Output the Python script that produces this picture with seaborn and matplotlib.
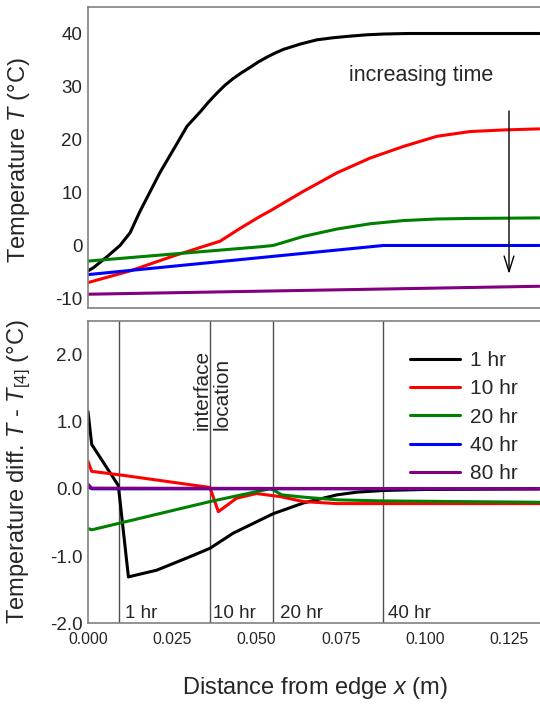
import matplotlib
matplotlib.use('Agg')
import matplotlib.pyplot as plt
import numpy as np
import pandas as pd
import seaborn as sns

# time labels and colours
times = ['1 hr', '10 hr', '20 hr', '40 hr', '80 hr']
colors = ['#000000', '#ff0000', '#008000', '#0000ff', '#800080']

# top panel: temperature profiles T(x)
x_1hr = [0, 0.0016, 0.0055, 0.0095, 0.0125, 0.0154, 0.0184, 0.0214, 0.0263, 0.0294, 0.0333,
         0.0357, 0.0382, 0.0406, 0.0431, 0.0456, 0.0481, 0.0505, 0.053, 0.0555, 0.058, 0.063,
         0.0679, 0.0728, 0.0778, 0.0827, 0.0877, 0.095, 0.1, 0.115, 0.134]
T_1hr = [-4.8, -4.2, -2.2, 0, 2.4, 6.4, 10.1, 13.8, 19.1, 22.5, 25.2,
         27.0, 28.7, 30.2, 31.5, 32.6, 33.6, 34.6, 35.5, 36.3, 37.0, 38.0,
         38.8, 39.2, 39.5, 39.75, 39.9, 40.0, 40.0, 40.0, 40.0]
x_10hr = [0, 0.0125, 0.0253, 0.0362, 0.0392, 0.0451, 0.0511, 0.054, 0.0639, 0.0739, 0.0838,
          0.0937, 0.1036, 0.1135, 0.1234, 0.134]
T_10hr = [-7.0, -4.8, -2.0, 0.2, 0.8, 3.2, 5.5, 6.5, 10.2, 13.7, 16.5,
          18.7, 20.6, 21.5, 21.8, 22.0]
x_20hr = [0, 0.0511, 0.055, 0.0639, 0.0739, 0.0838, 0.0937, 0.1036, 0.1135, 0.134]
T_20hr = [-2.95, -0.25, 0.0, 1.7, 3.1, 4.1, 4.7, 5.0, 5.1, 5.2]
x_40hr = [0, 0.0877, 0.134]
T_40hr = [-5.5, 0.0, 0.0]
x_80hr = [0, 0.067, 0.134]
T_80hr = [-9.2, -8.45, -7.7]

# bottom panel: difference T - T[4]
dx_1hr = [0, 0.0011, 0.009, 0.012, 0.0204, 0.0293, 0.0362, 0.0431, 0.055, 0.064, 0.0739,
          0.0798, 0.0877, 0.1, 0.134]
d_1hr = [1.15, 0.66, 0.05, -1.31, -1.21, -1.03, -0.885, -0.66, -0.37, -0.21, -0.09,
         -0.05, -0.025, -0.01, 0.0]
dx_10hr = [0, 0.0011, 0.0105, 0.0362, 0.0387, 0.0441, 0.050, 0.053, 0.057, 0.064, 0.0739, 0.1, 0.134]
d_10hr = [0.41, 0.26, 0.2, 0.02, -0.34, -0.14, -0.07, -0.09, -0.115, -0.19, -0.22, -0.22, -0.22]
dx_20hr = [0, 0.0011, 0.0362, 0.054, 0.055, 0.0575, 0.064, 0.074, 0.0877, 0.134]
d_20hr = [-0.59, -0.61, -0.19, 0.0, -0.015, -0.09, -0.124, -0.164, -0.18, -0.2]
dx_40hr = [0, 0.0011, 0.134]
d_40hr = [0.03, 0.0, 0.0]
dx_80hr = [0, 0.0011, 0.134]
d_80hr = [0.07, 0.01, 0.0]

# interface locations for each time
iface_x = [0.0093, 0.0362, 0.055, 0.0877]
iface_lbl = ['1 hr', '10 hr', '20 hr', '40 hr']

top = pd.concat([pd.DataFrame({'x': xs, 'T': ts, 'time': t}) for xs, ts, t in
                 zip([x_1hr, x_10hr, x_20hr, x_40hr, x_80hr],
                     [T_1hr, T_10hr, T_20hr, T_40hr, T_80hr], times)])
bot = pd.concat([pd.DataFrame({'x': xs, 'd': ds, 'time': t}) for xs, ds, t in
                 zip([dx_1hr, dx_10hr, dx_20hr, dx_40hr, dx_80hr],
                     [d_1hr, d_10hr, d_20hr, d_40hr, d_80hr], times)])

sns.set_theme(style='white')
plt.rcParams['font.family'] = ['Liberation Sans', 'DejaVu Sans']
plt.rcParams['mathtext.fontset'] = 'custom'
plt.rcParams['mathtext.rm'] = 'Liberation Sans'
plt.rcParams['mathtext.it'] = 'Liberation Sans:italic'
plt.rcParams['axes.unicode_minus'] = False

fig = plt.figure(figsize=(5.4, 7.04), dpi=100)
ax1 = fig.add_axes([88/540, 1-308/704, 453/540, 301/704])
ax2 = fig.add_axes([88/540, 1-623.3/704, 453/540, 302.6/704])

pal = dict(zip(times, colors))
sns.lineplot(data=top, x='x', y='T', hue='time', hue_order=times, palette=pal,
             estimator=None, sort=False, linewidth=2.2, legend=False, ax=ax1)
sns.lineplot(data=bot, x='x', y='d', hue='time', hue_order=times, palette=pal,
             estimator=None, sort=False, linewidth=2.2, ax=ax2)

xlim = (0, 0.1345)
for ax in (ax1, ax2):
    ax.set_xlim(*xlim)
    ax.set_xticks([0, 0.025, 0.05, 0.075, 0.1, 0.125])
    ax.tick_params(direction='in', length=4, width=1, color='#707070')
    ax.tick_params(axis='x', labelsize=11.3, pad=6)
    ax.tick_params(axis='y', labelsize=13.5, pad=4)
    for s in ax.spines.values():
        s.set_color('#808080')
        s.set_linewidth(1.2)

ax1.set_ylim(-11.8, 45)
ax1.set_yticks([-10, 0, 10, 20, 30, 40])
ax1.set_xticklabels([])
ax1.set_xlabel('')
ax1.set_ylabel('Temperature $T$ (°C)', fontsize=17)
ax1.yaxis.set_label_coords(-0.123, 0.49)

ax1.text(0.099, 32, 'increasing time', fontsize=15.5, ha='center', va='center')
ax1.annotate('', xy=(0.125, -5.9), xytext=(0.125, 25.9),
             arrowprops=dict(arrowstyle='->,head_length=0.8,head_width=0.25',
                             color='black', lw=1, mutation_scale=14))

ax2.set_ylim(-2.0, 2.5)
ax2.set_yticks([-2, -1, 0, 1, 2])
ax2.yaxis.set_major_formatter(matplotlib.ticker.FormatStrFormatter('%.1f'))
ax2.xaxis.set_major_formatter(matplotlib.ticker.FormatStrFormatter('%.3f'))
ax2.set_ylabel('Temperature diff. $T$ - $T_{[4]}$ (°C)', fontsize=17)
ax2.yaxis.set_label_coords(-0.121, 0.5)
ax2.set_xlabel('Distance from edge $x$ (m)', fontsize=17)
ax2.xaxis.set_label_coords(0.5, -0.172)

offs = [0.0016, 0.001, 0.002, 0.0015]
for xv, lb, o in zip(iface_x, iface_lbl, offs):
    ax2.axvline(xv, color='#505050', lw=1, zorder=1)
    ax2.text(xv + o, -1.925, lb, fontsize=13.5, ha='left', va='baseline')
ax2.text(0.0369, 0.88, 'interface\nlocation', rotation=90, fontsize=15,
         ha='center', va='bottom', multialignment='left', linespacing=1.1)

ax2.legend(loc='upper left', bbox_to_anchor=(0.711, 0.90), frameon=False,
           fontsize=15, handlelength=2.4, handletextpad=0.5, labelspacing=0.45,
           borderpad=0, borderaxespad=0, title=None)

fig.savefig('out.png', dpi=100)
